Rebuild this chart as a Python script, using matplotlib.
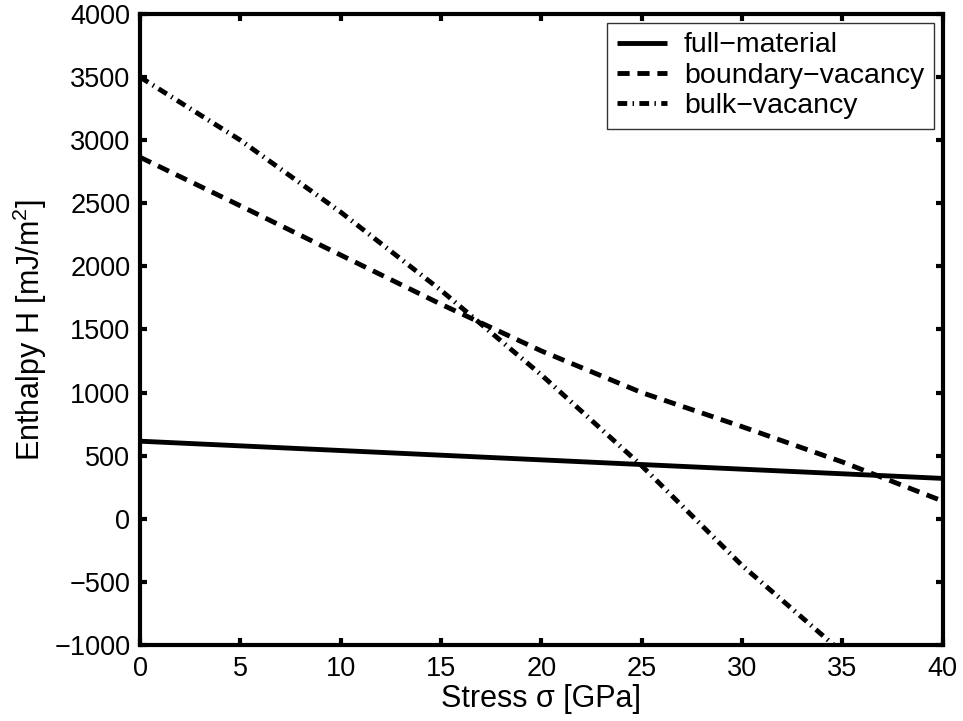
import matplotlib
matplotlib.use("Agg")
import matplotlib.pyplot as plt

plt.rcParams['font.family'] = ['Liberation Sans', 'DejaVu Sans']
plt.rcParams['mathtext.fontset'] = 'custom'
plt.rcParams['mathtext.rm'] = 'Liberation Sans'
plt.rcParams['mathtext.it'] = 'Liberation Sans:italic'

# Enthalpy vs. applied stress for the three configurations
full_stress = [0, 25, 40]
full_H = [615, 430, 320]

boundary_stress = [0, 5, 10, 15, 20, 25, 30, 35, 40]
boundary_H = [2865, 2480, 2090, 1700, 1330, 1000, 730, 450, 140]

bulk_stress = [0, 5, 10, 15, 20, 25, 30, 35, 40]
bulk_H = [3500, 3000, 2430, 1810, 1140, 420, -370, -1060, -1850]

series_labels = ['full\u2212material', 'boundary\u2212vacancy', 'bulk\u2212vacancy']

x_ticks = [0, 5, 10, 15, 20, 25, 30, 35, 40]
y_ticks = [-1000, -500, 0, 500, 1000, 1500, 2000, 2500, 3000, 3500, 4000]

fig = plt.figure(figsize=(9.63, 7.21), dpi=100)
ax = fig.add_axes([0.1454, 0.1054, 0.8336, 0.8752])

lw = 3.5
ax.plot(full_stress, full_H, color='black', lw=lw, solid_capstyle='butt',
        label=series_labels[0])
ax.plot(boundary_stress, boundary_H, color='black', lw=lw,
        linestyle=(0, (2.5, 1.6)), dash_capstyle='butt', label=series_labels[1])
ax.plot(bulk_stress, bulk_H, color='black', lw=lw,
        linestyle=(0, (2.0, 1.1, 0.3, 1.1)), dash_capstyle='butt',
        label=series_labels[2])

ax.set_xlim(0, 40)
ax.set_ylim(-1000, 4000)
ax.set_xticks(x_ticks)
ax.set_yticks(y_ticks)
ax.set_xticklabels([str(v) for v in x_ticks])
ax.set_yticklabels([str(v).replace('-', '\u2212') for v in y_ticks])

for side in ax.spines.values():
    side.set_linewidth(3)
ax.tick_params(direction='in', length=5, width=3, top=True, right=True,
               labelsize=19.5)
ax.tick_params(axis='x', pad=8)
ax.tick_params(axis='y', pad=7)

ax.set_xlabel('Stress \u03c3 [GPa]', fontsize=22, labelpad=1)
ax.set_ylabel(r'Enthalpy H [mJ/m$^{\mathrm{2}}$]', fontsize=22, labelpad=4)

leg = ax.legend(loc='upper right', fontsize=20.5, frameon=True, fancybox=False,
                edgecolor='black', handlelength=1.75, handletextpad=0.6,
                borderpad=0.35, labelspacing=0.15, borderaxespad=0.3)
leg.get_frame().set_linewidth(1.0)

fig.savefig('out.png', dpi=100)
